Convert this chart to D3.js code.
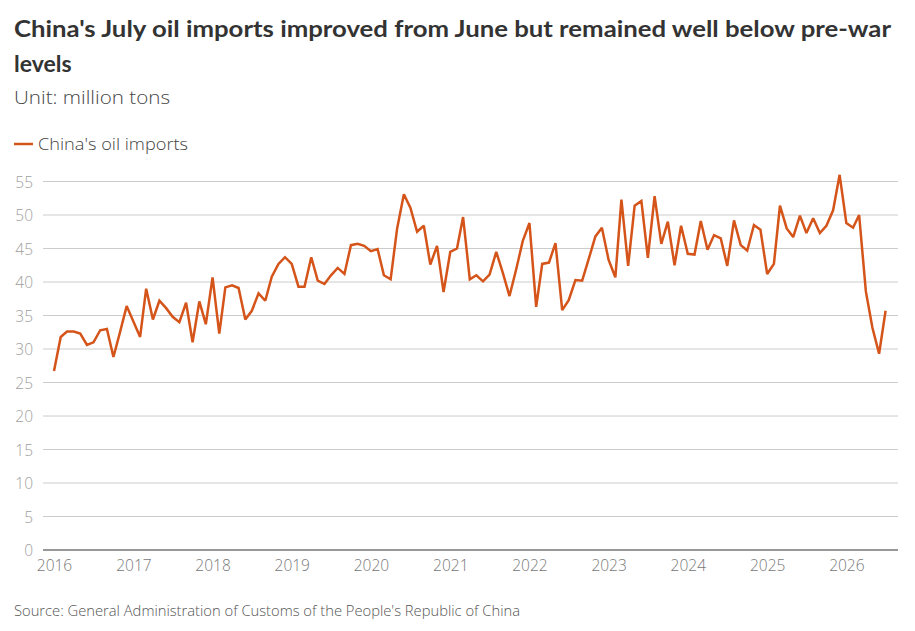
<!DOCTYPE html>
<html>
<head>
<meta charset="utf-8">
<script src="https://cdn.jsdelivr.net/npm/d3@7/dist/d3.min.js"></script>
<style>
  body { margin: 0; background: #fff; }
  svg { display: block; }
  text { font-family: "Open Sans", "Noto Sans", sans-serif; }
  .title { font-family: Lato, "Noto Sans", sans-serif; }
</style>
</head>
<body>
<svg id="chart" width="915" height="631"></svg>
<script>
const titleLines = ["China's July oil imports improved from June but remained well below pre-war", "levels"];
const subtitle = "Unit: million tons";
const seriesName = "China's oil imports";
const source = "Source: General Administration of Customs of the People's Republic of China";
const startMonth = "2016-01";
const yTicks = [0, 5, 10, 15, 20, 25, 30, 35, 40, 45, 50, 55];
const xTickYears = [2016, 2017, 2018, 2019, 2020, 2021, 2022, 2023, 2024, 2025, 2026];
// monthly values, Jan 2016 .. Jul 2026
const values2016 = [26.7, 31.8, 32.6, 32.6, 32.3, 30.6, 31.0, 32.8, 33.0, 28.8, 32.6, 36.4];
const values2017 = [34.1, 31.8, 39.0, 34.4, 37.2, 36.1, 34.8, 34.0, 36.9, 31.0, 37.1, 33.7];
const values2018 = [40.7, 32.3, 39.2, 39.5, 39.1, 34.4, 35.7, 38.3, 37.2, 40.8, 42.7, 43.7];
const values2019 = [42.7, 39.3, 39.3, 43.7, 40.2, 39.7, 41.0, 42.1, 41.2, 45.5, 45.7, 45.4];
const values2020 = [44.6, 44.9, 41.0, 40.4, 48.0, 53.1, 51.1, 47.5, 48.4, 42.6, 45.4, 38.5];
const values2021 = [44.5, 45.0, 49.7, 40.4, 41.0, 40.1, 41.1, 44.5, 41.3, 37.9, 41.9, 46.1];
const values2022 = [48.8, 36.3, 42.7, 42.9, 45.8, 35.8, 37.3, 40.3, 40.2, 43.4, 46.8, 48.1];
const values2023 = [43.3, 40.7, 52.3, 42.4, 51.4, 52.1, 43.6, 52.8, 45.7, 49.0, 42.5, 48.4];
const values2024 = [44.2, 44.1, 49.1, 44.8, 47.0, 46.5, 42.4, 49.2, 45.5, 44.7, 48.5, 47.8];
const values2025 = [41.2, 42.7, 51.4, 48.0, 46.7, 49.9, 47.3, 49.5, 47.3, 48.4, 50.7, 56.0];
const values2026 = [48.8, 48.1, 50.0, 38.6, 33.2, 29.3, 35.7];

const values = [].concat(values2016, values2017, values2018, values2019, values2020,
  values2021, values2022, values2023, values2024, values2025, values2026);
const parse = d3.timeParse("%Y-%m");
const t0 = parse(startMonth);
const data = values.map((v, i) => ({ date: d3.timeMonth.offset(t0, i), value: v }));

const svg = d3.select("#chart");
const gridLeft = 43, gridRight = 898;

const x = d3.scaleTime()
  .domain([t0, data[data.length - 1].date])
  .range([54, 885.6]);
const y = d3.scaleLinear().domain([0, 55]).range([550, 181.5]);

function fitWidth(sel, w) {
  sel.attr("textLength", w).attr("lengthAdjust", "spacingAndGlyphs");
}

// title
const title = svg.append("text").attr("class", "title").attr("x", 14).attr("y", 37)
  .attr("fill", "#333").attr("font-size", 23).attr("font-weight", 700);
title.selectAll("tspan").data(titleLines).join("tspan")
  .attr("x", 14).attr("dy", (d, i) => i === 0 ? 0 : 35).text(d => d);
fitWidth(title.select("tspan"), 877);

fitWidth(svg.append("text").attr("x", 14).attr("y", 104)
  .attr("fill", "#444").attr("font-size", 19).attr("font-weight", 300)
  .text(subtitle), 156);

// legend
svg.append("line").attr("x1", 14).attr("x2", 33).attr("y1", 144).attr("y2", 144)
  .attr("stroke", "#d4541a").attr("stroke-width", 2.5);
fitWidth(svg.append("text").attr("x", 38).attr("y", 150)
  .attr("fill", "#444").attr("font-size", 16.5).attr("font-weight", 300)
  .text(seriesName), 150);

// gridlines & y labels
const yAxis = svg.append("g");
yAxis.selectAll("line.grid").data(yTicks.filter(d => d > 0)).join("line")
  .attr("class", "grid")
  .attr("x1", gridLeft).attr("x2", gridRight)
  .attr("y1", d => y(d)).attr("y2", d => y(d))
  .attr("stroke", "#cccccc").attr("stroke-width", 1);
yAxis.selectAll("text").data(yTicks).join("text")
  .attr("x", 33).attr("y", d => y(d) + 6).attr("text-anchor", "end")
  .attr("fill", "#a0a0a0").attr("font-size", 15.5).attr("font-weight", 300)
  .text(d => d);

// x axis
const xAxis = d3.axisBottom(x)
  .tickValues(xTickYears.map(yr => new Date(yr, 0, 1)))
  .tickFormat(d3.timeFormat("%Y"))
  .tickSize(0).tickPadding(10);
const gx = svg.append("g").attr("transform", "translate(0,550)").call(xAxis);
gx.select(".domain").remove();
gx.selectAll("text").attr("fill", "#777").attr("font-size", 15.5).attr("font-weight", 300)
  .attr("font-family", "'Open Sans', 'Noto Sans', sans-serif");
svg.append("line").attr("x1", gridLeft).attr("x2", gridRight)
  .attr("y1", 550).attr("y2", 550).attr("stroke", "#333").attr("stroke-width", 1.2);

// line
const line = d3.line().x(d => x(d.date)).y(d => y(d.value));
svg.append("path").datum(data)
  .attr("d", line).attr("fill", "none")
  .attr("stroke", "#d4541a").attr("stroke-width", 2.5)
  .attr("stroke-linejoin", "miter").attr("stroke-miterlimit", 2);

// source
fitWidth(svg.append("text").attr("x", 14).attr("y", 616)
  .attr("fill", "#555").attr("font-size", 14).attr("font-weight", 300)
  .text(source), 506);
</script>
</body>
</html>
